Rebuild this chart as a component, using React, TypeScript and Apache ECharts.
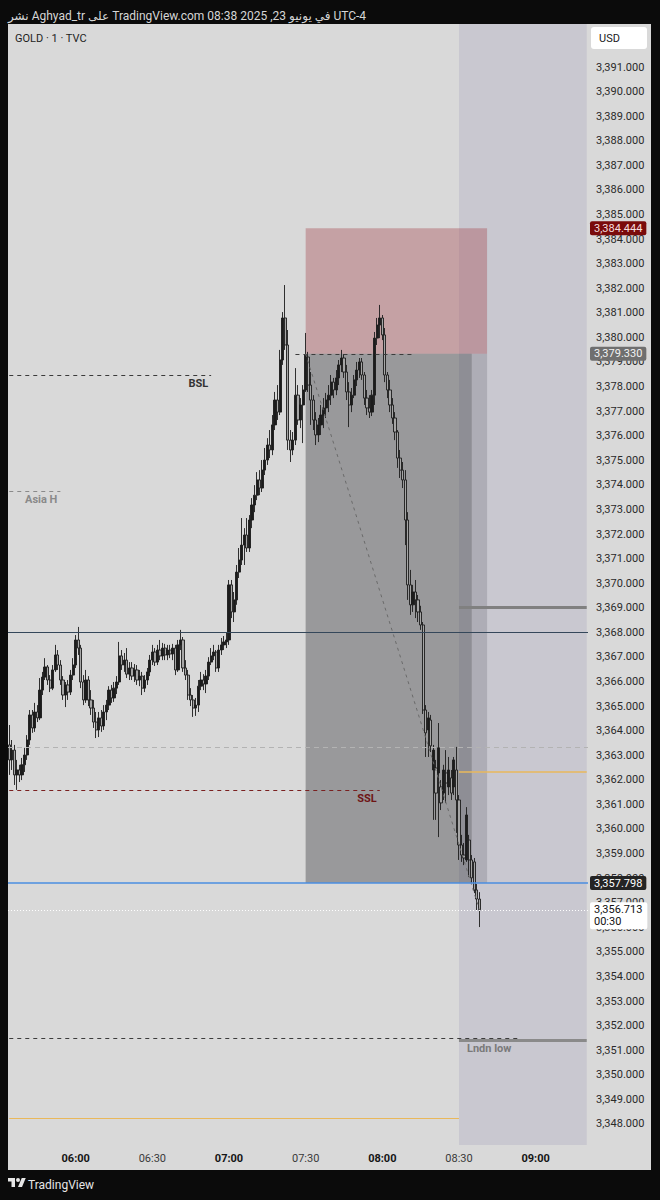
import React, { useEffect, useRef } from "react";
import * as echarts from "echarts";

// ---------- data ----------
const firstMinute = 5 * 60 + 34; // 05:34
const categoryCount = 227; // 05:34 .. 09:20
const timeLabels: string[] = Array.from({ length: categoryCount }, (_, i) => {
  const m = firstMinute + i;
  return `${String(Math.floor(m / 60)).padStart(2, "0")}:${String(m % 60).padStart(2, "0")}`;
});

const opens = [
  3363.42, 3362.81, 3363.21, 3362.2, 3362.4, 3362.2, 3362.61, 3363.01, 3363.62, 3364.64,
  3364.11, 3364.76, 3364.52, 3365.65, 3366.18, 3366.59, 3366.06, 3365.73, 3366.47, 3367.08,
  3366.67, 3366.06, 3365.45, 3365.86, 3365.57, 3366.26, 3366.67, 3367.69, 3367.36, 3365.98,
  3365.25, 3366.06, 3365.25, 3364.92, 3364.35, 3364.03, 3364.52, 3364.19, 3364.76, 3365.04,
  3365.65, 3365.33, 3365.73, 3365.98, 3367.04, 3366.67, 3366.87, 3366.3, 3366.55, 3366.22,
  3366.47, 3366.06, 3366.22, 3365.73, 3366.06, 3366.39, 3366.87, 3367.2, 3366.79, 3367.28,
  3367.04, 3367.36, 3367.08, 3367.28, 3367.12, 3367.36, 3366.47, 3367.49, 3367.69, 3366.55,
  3366.26, 3365.45, 3365.25, 3364.92, 3365.04, 3365.81, 3366.06, 3365.9, 3366.22, 3366.79,
  3367.04, 3367.2, 3366.55, 3367.28, 3367.49, 3367.61, 3367.69, 3369.93, 3368.83, 3369.32,
  3370.45, 3370.94, 3371.55, 3371.96, 3371.43, 3372.57, 3373.18, 3373.58, 3374.2, 3373.87,
  3374.6, 3375.01, 3375.62, 3375.42, 3376.44, 3377.45, 3376.96, 3379.08, 3380.79, 3379.69,
  3375.82, 3375.42, 3375.82, 3377.65, 3376.64, 3377.25, 3377.86, 3379.2, 3378.06, 3377.45,
  3376.64, 3376.03, 3376.44, 3376.84, 3377.13, 3377.45, 3377.65, 3378.18, 3377.86, 3378.35,
  3378.88, 3379.16, 3378.59, 3377.78, 3377.25, 3377.65, 3378.27, 3378.67, 3379.0, 3378.47,
  3377.53, 3377.13, 3376.96, 3377.65, 3379.97, 3380.5, 3380.79, 3380.1, 3378.47, 3377.86,
  3377.25, 3376.72, 3376.15, 3375.09, 3374.6, 3374.2, 3372.57, 3369.93, 3369.12, 3369.64,
  3369.32, 3368.83, 3368.3, 3364.84, 3364.03, 3364.43, 3362.4, 3362.48, 3362.28, 3361.71,
  3361.46, 3362.28, 3361.71, 3362.08, 3361.71, 3362.4, 3361.18, 3359.35, 3358.94, 3358.74,
  3359.55, 3358.74, 3358.66, 3357.52, 3357.15,
];
const highs = [
  3364.23, 3363.62, 3363.42, 3362.81, 3362.61, 3362.89, 3363.3, 3363.82, 3364.84, 3364.84,
  3365.13, 3365.04, 3366.14, 3366.39, 3366.95, 3366.67, 3366.26, 3366.67, 3367.49, 3367.28,
  3366.87, 3366.22, 3365.98, 3366.06, 3366.47, 3366.95, 3367.89, 3368.22, 3367.49, 3366.26,
  3366.47, 3366.22, 3365.65, 3365.25, 3364.76, 3364.76, 3364.84, 3365.04, 3365.25, 3365.81,
  3365.86, 3365.98, 3366.22, 3367.61, 3367.28, 3367.16, 3367.36, 3366.79, 3366.79, 3366.71,
  3366.67, 3366.47, 3366.39, 3366.26, 3366.55, 3367.08, 3367.49, 3367.36, 3367.49, 3367.69,
  3367.57, 3367.53, 3367.49, 3367.49, 3367.53, 3367.49, 3367.69, 3368.1, 3367.81, 3366.87,
  3366.47, 3365.73, 3365.45, 3365.33, 3366.06, 3366.39, 3366.3, 3366.47, 3366.99, 3367.36,
  3367.49, 3367.28, 3367.49, 3367.77, 3367.85, 3367.98, 3370.13, 3370.13, 3369.64, 3370.74,
  3371.43, 3372.65, 3372.24, 3372.65, 3372.77, 3373.46, 3373.99, 3374.52, 3374.6, 3375.01,
  3375.5, 3375.9, 3376.23, 3376.84, 3377.78, 3378.06, 3379.49, 3381.03, 3382.13, 3380.3,
  3376.23, 3376.15, 3378.75, 3378.06, 3377.53, 3378.06, 3380.18, 3379.41, 3378.59, 3377.65,
  3376.96, 3376.72, 3377.25, 3377.53, 3377.74, 3378.06, 3378.47, 3378.35, 3378.67, 3379.08,
  3379.49, 3379.32, 3378.88, 3378.18, 3377.94, 3378.47, 3379.0, 3379.16, 3379.16, 3378.59,
  3377.86, 3377.65, 3377.86, 3380.22, 3380.79, 3381.32, 3380.91, 3380.38, 3378.59, 3378.27,
  3377.53, 3376.96, 3376.23, 3375.42, 3374.93, 3374.6, 3372.89, 3370.54, 3369.93, 3370.13,
  3369.52, 3369.08, 3368.42, 3365.04, 3364.76, 3364.64, 3363.42, 3362.81, 3364.31, 3361.99,
  3362.61, 3363.21, 3362.93, 3362.4, 3362.93, 3363.34, 3361.38, 3359.76, 3359.43, 3360.89,
  3359.76, 3358.94, 3358.82, 3357.76, 3357.43,
];
const lows = [
  3362.2, 3362.4, 3361.79, 3361.59, 3361.91, 3361.99, 3362.32, 3362.81, 3363.42, 3363.91,
  3363.95, 3364.35, 3364.43, 3365.45, 3366.06, 3365.86, 3365.57, 3365.65, 3366.39, 3366.47,
  3365.86, 3365.25, 3364.96, 3365.25, 3365.45, 3366.06, 3366.55, 3367.08, 3365.73, 3365.04,
  3365.13, 3365.0, 3364.64, 3364.11, 3363.7, 3363.74, 3363.95, 3364.03, 3364.43, 3364.84,
  3365.13, 3365.17, 3365.49, 3365.86, 3366.47, 3366.39, 3366.14, 3366.06, 3366.06, 3365.98,
  3365.86, 3365.81, 3365.45, 3365.57, 3365.86, 3366.22, 3366.67, 3366.63, 3366.67, 3366.87,
  3366.87, 3366.87, 3366.87, 3366.95, 3366.87, 3366.26, 3366.39, 3367.28, 3366.39, 3366.06,
  3365.25, 3365.0, 3364.56, 3364.6, 3364.76, 3365.65, 3365.65, 3365.53, 3366.06, 3366.67,
  3366.87, 3366.39, 3366.39, 3367.08, 3367.28, 3367.36, 3367.49, 3368.58, 3368.42, 3369.12,
  3370.21, 3370.74, 3370.74, 3371.27, 3371.27, 3372.24, 3372.89, 3373.38, 3373.58, 3373.71,
  3374.4, 3374.81, 3375.09, 3375.21, 3376.23, 3376.64, 3376.84, 3378.88, 3379.49, 3375.42,
  3374.93, 3375.21, 3375.62, 3376.44, 3376.31, 3375.7, 3377.78, 3377.78, 3376.44, 3376.23,
  3375.62, 3375.74, 3376.03, 3376.31, 3376.72, 3376.96, 3377.25, 3377.53, 3377.65, 3378.06,
  3378.59, 3378.35, 3377.45, 3376.35, 3376.96, 3377.53, 3378.02, 3378.35, 3378.27, 3377.25,
  3376.84, 3376.72, 3376.8, 3377.25, 3379.69, 3379.97, 3379.89, 3378.18, 3377.53, 3376.96,
  3376.48, 3375.82, 3374.69, 3374.28, 3373.87, 3371.55, 3369.32, 3368.71, 3368.83, 3368.58,
  3368.42, 3368.1, 3364.68, 3362.93, 3362.93, 3363.13, 3360.37, 3360.37, 3359.67, 3360.77,
  3361.18, 3361.06, 3361.38, 3361.18, 3361.38, 3359.84, 3358.74, 3358.66, 3358.53, 3358.66,
  3358.05, 3357.8, 3357.39, 3356.7, 3356.01,
];
const closes = [
  3362.81, 3363.21, 3362.2, 3362.4, 3362.2, 3362.61, 3363.01, 3363.62, 3364.64, 3364.11,
  3364.76, 3364.52, 3365.65, 3366.18, 3366.59, 3366.06, 3365.73, 3366.47, 3367.08, 3366.67,
  3366.06, 3365.45, 3365.86, 3365.57, 3366.26, 3366.67, 3367.69, 3367.36, 3365.98, 3365.25,
  3366.06, 3365.25, 3364.92, 3364.35, 3364.03, 3364.52, 3364.19, 3364.76, 3365.04, 3365.65,
  3365.33, 3365.73, 3365.98, 3367.04, 3366.67, 3366.87, 3366.3, 3366.55, 3366.22, 3366.47,
  3366.06, 3366.22, 3365.73, 3366.06, 3366.39, 3366.87, 3367.2, 3366.79, 3367.28, 3367.04,
  3367.36, 3367.08, 3367.28, 3367.12, 3367.36, 3366.47, 3367.49, 3367.69, 3366.55, 3366.26,
  3365.45, 3365.25, 3364.92, 3365.04, 3365.81, 3366.06, 3365.9, 3366.22, 3366.79, 3367.04,
  3367.2, 3366.55, 3367.28, 3367.49, 3367.61, 3367.69, 3369.93, 3368.83, 3369.32, 3370.45,
  3370.94, 3371.55, 3371.96, 3371.43, 3372.57, 3373.18, 3373.58, 3374.2, 3373.87, 3374.6,
  3375.01, 3375.62, 3375.42, 3376.44, 3377.45, 3376.96, 3379.08, 3380.79, 3379.69, 3375.82,
  3375.42, 3375.82, 3377.65, 3376.64, 3377.25, 3377.86, 3379.3, 3378.06, 3377.45, 3376.64,
  3376.03, 3376.44, 3376.84, 3377.13, 3377.45, 3377.65, 3378.18, 3377.86, 3378.35, 3378.88,
  3379.16, 3378.59, 3377.78, 3377.25, 3377.65, 3378.27, 3378.67, 3379.0, 3378.47, 3377.53,
  3377.13, 3376.96, 3377.65, 3379.97, 3380.5, 3380.79, 3380.1, 3378.47, 3377.86, 3377.25,
  3376.72, 3376.15, 3375.09, 3374.6, 3374.2, 3372.57, 3369.93, 3369.12, 3369.64, 3369.32,
  3368.83, 3368.3, 3364.84, 3363.91, 3364.52, 3363.38, 3363.21, 3361.46, 3363.3, 3361.06,
  3362.4, 3361.87, 3362.4, 3361.46, 3362.81, 3361.18, 3359.35, 3358.94, 3358.82, 3360.57,
  3358.74, 3358.01, 3357.52, 3357.15, 3356.713,
];

// price levels
const stopPrice = 3384.444;
const entryPrice = 3379.33;
const targetPrice = 3357.798;
const lastPrice = 3356.713;
const bslPrice = 3378.47;
const asiaHighPrice = 3373.75;
const navyLevel = 3368.0;
const grayZoneLevel = 3369.03;
const midDashedLevel = 3363.33;
const yellowUpperLevel = 3362.32;
const sslPrice = 3361.59;
const londonLowDashed = 3351.5;
const londonLowLevel = 3351.42;
const yellowLowerLevel = 3348.24;
const paneTopPrice = 3392.75;
const paneBottomPrice = 3347.14;

const FONT = 'Roboto, "DejaVu Sans", "Noto Sans", sans-serif';

let logoRegistered = false;
function registerLogo() {
  if (logoRegistered) return;
  echarts.graphic.registerShape(
    "tvlogo",
    echarts.graphic.extendPath(
      "M14 22H7V11H0V4h14v18zM28 22h-8l7.5-18h8L28 22zM16 8a4 4 0 1 0 8 0a4 4 0 1 0 -8 0z",
      {}
    )
  );
  logoRegistered = true;
}

function fmtPrice(v: number, d = 3) {
  return v.toLocaleString("en-US", { minimumFractionDigits: d, maximumFractionDigits: d });
}

function seg(from: string, to: string, price: number, lineStyle: any, label?: any) {
  return [
    { coord: [from, price], lineStyle, label: label ?? { show: false } },
    { coord: [to, price] },
  ];
}

function badge(price: number, text: string, bg: string, fg: string, extra: any = {}) {
  return {
    yAxis: price,
    lineStyle: { color: "rgba(0,0,0,0)", width: 1, type: "solid" },
    label: {
      show: true,
      position: "end",
      distance: 2,
      formatter: text,
      backgroundColor: bg,
      color: fg,
      fontSize: 11,
      fontFamily: FONT,
      padding: [2, 4, 1, 4],
      borderRadius: 2,
      ...extra,
    },
  };
}

function buildOption() {
  const candles = opens.map((o, i) => [o, closes[i], lows[i], highs[i]]);
  const levelLabel = (text: string, color: string, position: string, extra: any = {}) => ({
    show: true,
    formatter: text,
    position,
    color,
    fontSize: 11,
    fontWeight: "bold",
    fontFamily: FONT,
    distance: 3,
    ...extra,
  });

  return {
    animation: false,
    backgroundColor: "#0b0b0b",
    textStyle: { fontFamily: FONT },
    grid: { left: 8, right: 72, top: 17.84, height: 1130.68 },
    xAxis: {
      type: "category",
      data: timeLabels,
      boundaryGap: true,
      axisLine: { show: false },
      axisTick: { show: false },
      splitLine: { show: false },
      axisLabel: {
        interval: (_i: number, v: string) => v.endsWith(":00") || v.endsWith(":30"),
        formatter: (v: string) => (v.endsWith(":00") ? `{b|${v}}` : v),
        color: "#3a3a3a",
        fontSize: 11,
        margin: 4,
        fontFamily: FONT,
        rich: { b: { fontWeight: "bold", color: "#151515", fontSize: 11, fontFamily: FONT } },
      },
    },
    yAxis: {
      type: "value",
      position: "right",
      min: 3347,
      max: 3393,
      interval: 1,
      axisLine: { show: false },
      axisTick: { show: false },
      splitLine: { show: false },
      axisLabel: {
        margin: 8,
        fontSize: 11,
        color: "#2a2a2a",
        fontFamily: FONT,
        formatter: (v: number) => (v > 3391.5 || v < 3347.5 ? "" : fmtPrice(v)),
      },
    },
    series: [
      {
        type: "candlestick",
        data: candles,
        barWidth: 2.7,
        itemStyle: {
          color: "#1c1c1c",
          color0: "#a6a6a6",
          borderColor: "#1c1c1c",
          borderColor0: "#1c1c1c",
          borderWidth: 0.9,
        },
        markArea: {
          silent: true,
          data: [
            [
              { xAxis: "08:30", yAxis: paneTopPrice, itemStyle: { color: "#c9c8d0" } },
              { xAxis: "09:20", yAxis: paneBottomPrice },
            ],
            [
              { xAxis: "07:30", yAxis: stopPrice, itemStyle: { color: "rgba(165,70,80,0.38)" } },
              { xAxis: "08:41", yAxis: entryPrice },
            ],
            [
              { xAxis: "07:30", yAxis: entryPrice, itemStyle: { color: "rgba(40,40,50,0.16)" } },
              { xAxis: "08:41", yAxis: targetPrice },
            ],
            [
              { xAxis: "07:30", yAxis: entryPrice, itemStyle: { color: "rgba(30,30,30,0.22)" } },
              { xAxis: "08:35", yAxis: targetPrice },
            ],
          ],
        },
        markLine: {
          silent: true,
          symbol: ["none", "none"],
          label: { show: false },
          data: [
            { yAxis: midDashedLevel, lineStyle: { color: "#b3b3b3", width: 1, type: [5, 4] }, label: { show: false } },
            { yAxis: navyLevel, lineStyle: { color: "#34475a", width: 1, type: "solid" }, label: { show: false } },
            seg("08:30", "09:20", grayZoneLevel, { color: "#808080", width: 3, type: "solid" }),
            seg("08:30", "09:20", yellowUpperLevel, { color: "#e9b85b", width: 1.5, type: "solid" }),
            seg("05:34", "06:53", bslPrice, { color: "#3a3a3a", width: 1, type: [4, 4] }, levelLabel("BSL", "#333333", "insideEndBottom")),
            seg("05:34", "05:54", asiaHighPrice, { color: "#8a8a8a", width: 1, type: [4, 4] }, levelLabel("Asia H", "#8a8a8a", "insideEndBottom")),
            seg("05:34", "07:59", sslPrice, { color: "#7a2020", width: 1, type: [4, 4] }, levelLabel("SSL", "#6e1414", "insideEndBottom")),
            seg("07:26", "08:12", entryPrice, { color: "#3c3c3c", width: 1, type: [4, 4] }),
            seg("05:34", "08:53", londonLowDashed, { color: "#3c3c3c", width: 1, type: [4, 4] }),
            seg("08:30", "09:20", londonLowLevel, { color: "#8a8a8a", width: 3, type: "solid" }, levelLabel("Lndn low", "#7a7a7a", "insideStartBottom", { padding: [0, 0, 0, 5] })),
            seg("05:34", "08:30", yellowLowerLevel, { color: "#e9b85b", width: 1, type: "solid" }),
            [
              { coord: ["07:30", entryPrice], lineStyle: { color: "#6a6a6a", width: 1, type: [3, 4] }, label: { show: false } },
              { coord: ["08:38", lastPrice] },
            ],
            {
              yAxis: targetPrice,
              lineStyle: { color: "#4a8ee0", width: 1.5, type: "solid" },
              label: {
                show: true,
                position: "end",
                distance: 2,
                formatter: fmtPrice(targetPrice),
                backgroundColor: "#242424",
                color: "#ffffff",
                fontSize: 11,
                fontFamily: FONT,
                padding: [2, 4, 1, 4],
                borderRadius: 2,
              },
            },
            {
              yAxis: lastPrice,
              lineStyle: { color: "#ffffff", width: 1, type: [1, 2] },
              label: {
                show: true,
                position: "end",
                distance: 2,
                formatter: `${fmtPrice(lastPrice)}\n00:30`,
                backgroundColor: "#ffffff",
                color: "#111111",
                fontSize: 11,
                lineHeight: 12,
                fontFamily: FONT,
                padding: [2, 5, 1, 4],
                borderRadius: 2,
                offset: [0, 6],
              },
            },
            badge(stopPrice, fmtPrice(stopPrice), "#7a0b0b", "#f5dede"),
            badge(entryPrice, fmtPrice(entryPrice), "#6f6f6f", "#f2f2f2"),
          ],
        },
      },
    ],
    graphic: [
      {
        type: "rect",
        z: -10,
        silent: true,
        shape: { x: 8, y: 24, width: 643, height: 1146 },
        style: { fill: "#d9d9d9" },
      },
      {
        type: "text",
        silent: true,
        style: {
          x: 8,
          y: 16,
          text: "نشر Aghyad_tr على TradingView.com في يونيو 23, 2025 08:38 UTC-4",
          fill: "#d6d6d6",
          fontSize: 12,
          fontFamily: FONT,
          verticalAlign: "middle",
          align: "left",
        },
      },
      {
        type: "text",
        silent: true,
        style: {
          x: 15,
          y: 38,
          text: "GOLD · 1 · TVC",
          fill: "#1e1e1e",
          fontSize: 11,
          fontFamily: FONT,
          verticalAlign: "middle",
        },
      },
      {
        type: "rect",
        silent: true,
        shape: { x: 591, y: 27, width: 56, height: 22, r: 3 },
        style: { fill: "#ffffff" },
      },
      {
        type: "text",
        silent: true,
        style: {
          x: 599,
          y: 38,
          text: "USD",
          fill: "#1a1a1a",
          fontSize: 11,
          fontFamily: FONT,
          verticalAlign: "middle",
        },
      },
      {
        type: "tvlogo",
        silent: true,
        x: 8,
        y: 1176,
        scaleX: 0.5,
        scaleY: 0.5,
        style: { fill: "#e6e6e6" },
      },
      {
        type: "text",
        silent: true,
        style: {
          x: 28,
          y: 1185,
          text: "TradingView",
          fill: "#e6e6e6",
          fontSize: 12,
          fontFamily: FONT,
          verticalAlign: "middle",
        },
      },
    ],
  };
}

export default function App() {
  const ref = useRef<HTMLDivElement>(null);
  useEffect(() => {
    registerLogo();
    const chart = echarts.init(ref.current!, null, { renderer: "svg" });
    chart.setOption(buildOption() as any);
    return () => chart.dispose();
  }, []);
  return (
    <div
      ref={ref}
      style={{ position: "absolute", left: 0, top: 0, width: 660, height: 1200 }}
    />
  );
}
